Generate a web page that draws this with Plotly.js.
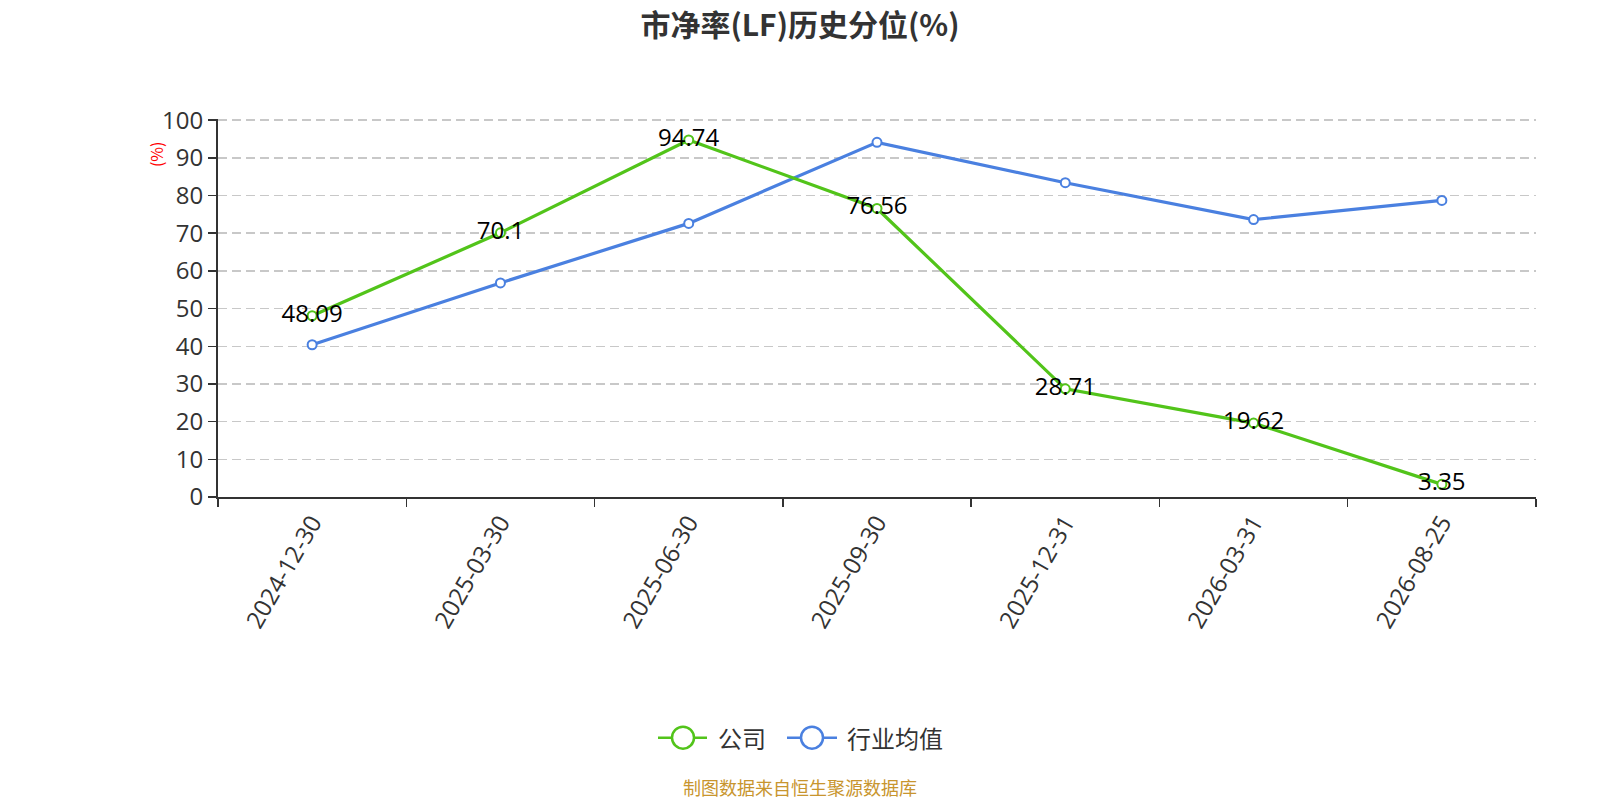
<!DOCTYPE html>
<html>
<head>
<meta charset="utf-8">
<script src="https://cdn.plot.ly/plotly-3.0.1.min.js"></script>
<style>html,body{margin:0;padding:0;background:#fff}#chart{width:1600px;height:800px}</style>
</head>
<body>
<div id="chart"></div>
<script>
var categories = ['2024-12-30','2025-03-30','2025-06-30','2025-09-30','2025-12-31','2026-03-31','2026-08-25'];
var companyValues = [48.09, 70.1, 94.74, 76.56, 28.71, 19.62, 3.35];
var industryValues = [40.4, 56.8, 72.6, 94.1, 83.4, 73.6, 78.7];
var yTicks = [0,10,20,30,40,50,60,70,80,90,100];
var seriesNames = ['公司', '行业均值'];

var CJK = '"Noto Sans CJK SC", "Noto Sans", sans-serif';
var NUM = '"Open Sans", "Noto Sans CJK SC", sans-serif';
var GREEN = '#52c41a';
var BLUE = '#4a80e0';

function lineTrace(name, vals, color, withText) {
  return {
    type: 'scatter', mode: withText ? 'lines+markers+text' : 'lines+markers',
    name: name, x: categories, y: vals,
    text: withText ? vals.map(String) : undefined,
    textposition: 'middle center',
    textfont: {family: NUM, size: 24, color: '#000'},
    line: {color: color, width: 3.2},
    marker: {symbol: 'circle', size: 9, color: '#fff', line: {color: color, width: 2}},
    showlegend: false, cliponaxis: false, hoverinfo: 'x+y'
  };
}

var data = [
  lineTrace(seriesNames[1], industryValues, BLUE, false),
  lineTrace(seriesNames[0], companyValues, GREEN, true)
];

// plot area: left 218, right 1536, top ~120, bottom 497 (pixels)
var L = 218, W = 1318, B = 497, H = 377;
function px(x) { return (x - L) / W; }
function py(y) { return (B - y) / H; }

var legY = py(737);
function legendItem(color, lineX0, lineX1, cx, textX, label) {
  return {
    shapes: [
      {type: 'line', xref: 'paper', yref: 'paper', x0: px(lineX0), x1: px(lineX1), y0: legY, y1: legY,
       line: {color: color, width: 2.5}, layer: 'above'},
      {type: 'circle', xref: 'paper', yref: 'paper', xsizemode: 'pixel', ysizemode: 'pixel',
       xanchor: px(cx), yanchor: legY, x0: -11, x1: 11, y0: -11, y1: 11,
       fillcolor: '#fff', line: {color: color, width: 2.5}, layer: 'above'}
    ],
    ann: {text: label, xref: 'paper', yref: 'paper', x: px(textX), y: legY, xanchor: 'left', yanchor: 'middle',
          showarrow: false, font: {family: CJK, size: 24, color: '#333'}}
  };
}
var li1 = legendItem(GREEN, 658, 707, 683, 716, seriesNames[0]);
var li2 = legendItem(BLUE, 787, 837, 812, 845, seriesNames[1]);

var layout = {
  width: 1600, height: 800,
  margin: {l: L, r: 1600 - L - W, t: 119, b: 800 - B},
  paper_bgcolor: '#fff', plot_bgcolor: '#fff',
  font: {family: CJK, color: '#333'},
  title: {text: '市净率(LF)历史分位(%)', x: 0.5, xanchor: 'center', y: 0.968, yanchor: 'middle',
          font: {family: CJK, size: 30, color: '#333', weight: 'bold'}},
  xaxis: {
    type: 'category', range: [-0.5, 6.5], tickson: 'boundaries',
    showline: true, linecolor: '#333', linewidth: 2,
    ticks: 'outside', ticklen: 8, tickcolor: '#333', tickwidth: 1.5,
    tickangle: -60, tickfont: {family: NUM, size: 24, color: '#333'},
    showgrid: false, zeroline: false, fixedrange: true
  },
  yaxis: {
    range: [0, 100.3], tickvals: yTicks, ticktext: yTicks.map(String),
    showline: true, linecolor: '#333', linewidth: 2,
    ticks: 'outside', ticklen: 8, tickcolor: '#333', tickwidth: 1.5,
    tickfont: {family: NUM, size: 24, color: '#333'},
    showgrid: true, gridcolor: '#c8c8c8', griddash: '9px,5px', gridwidth: 1.4,
    zeroline: false, fixedrange: true
  },
  shapes: li1.shapes.concat(li2.shapes),
  annotations: [
    {text: '(%)', xref: 'paper', yref: 'paper', x: px(156), y: py(155), xanchor: 'center', yanchor: 'middle',
     textangle: -90, showarrow: false, font: {family: CJK, size: 16, color: '#ff0000'}},
    li1.ann, li2.ann,
    {text: '制图数据来自恒生聚源数据库', xref: 'paper', yref: 'paper', x: px(800), y: py(786),
     xanchor: 'center', yanchor: 'middle', showarrow: false,
     font: {family: CJK, size: 18, color: '#c8952e'}}
  ],
  showlegend: false
};

Plotly.newPlot('chart', data, layout, {displayModeBar: false, staticPlot: true});
</script>
</body>
</html>
